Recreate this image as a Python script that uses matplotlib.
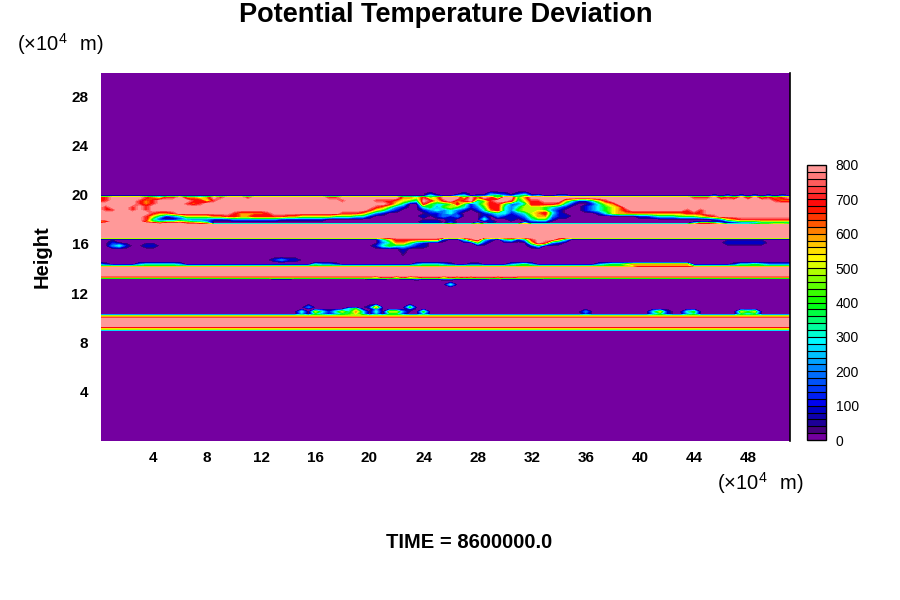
import matplotlib
matplotlib.use("Agg")
import matplotlib.pyplot as plt
import numpy as np
from matplotlib.colors import LinearSegmentedColormap

plt.rcParams['font.family'] = ['Liberation Sans', 'DejaVu Sans']
plt.rcParams['mathtext.fontset'] = 'custom'
plt.rcParams['mathtext.rm'] = 'Liberation Sans'

# field: one row per height, one digit (hundreds) per 0.5 x 10^4 m
# "-" = ten 0 digits, "+" = ten 8 digits, a lone digit fills the whole row
heights = [30, 20.25, 20.05, 19.9, 19.75, 19.5, 19.25, 19.0, 18.75, 18.5, 18.25, 18.0, 17.8, 17.66,
           17.54, 16.54, 16.38, 16.1, 15.85, 15.6, 14.9, 14.7, 14.5, 14.33, 14.18, 14.05, 13.42, 13.3, 13.24,
           13.18, 13.05, 12.9, 12.7, 12.5, 11.1, 10.85, 10.72, 10.5, 10.3, 10.14, 10.06, 10.0, 9.93,
           9.3, 9.22, 9.1, 9.03, 8.97, 0]
rows = [
    "0",
    "0",
    "- - - - 0000000001 0000100021 1012000000 - - - 000",
    "- - - - 0000000003 1002301134 2134120011 - - 0101010101 010",
    "7788888765 7786656878 8878888888 8888778888 8888866574 6888586874 8846888888 + 8888888877 7867686867 678",
    "6788887678 8888775788 + 8888887888 8777654387 5786783478 8735778885 3113578888 + + 766",
    "8888887678 8887678888 + + 8887530074 3347413577 4223777763 1001356888 + + 888",
    "8788878788 + + + 8764210034 2454312477 3235554321 0012345688 + + 888",
    "8778878788 + + + 7542100012 3232101367 3245554210 0012345678 8888888787 + 888",
    "8888888876 6788888888 7666678888 8888887776 4210000001 1231000123 3123567310 0000135666 6666666777 + 888",
    "8888888753 1235555667 7667777766 5555544433 1000000010 1212000102 1112466211 - 1123334445 6788888888 888",
    "8888888731 0012222111 2222222111 1111000000 - 0010000300 0101344100 - - 0125677777 777",
    "5688888643 4454332000 - - 0000000011 1010000010 0000111000 - - 0001233344 444",
    "7888888887 8887765000 - - - 0020003000 0004000000 - 0000000036 6530000122 332",
    "8",
    "8",
    "- - - - 0035777777 7100378310 3413788863 - - - 000",
    "0010000000 - - - 0023664210 0000004100 0000587210 - - 0001111110 000",
    "0023100110 - - - 0134332110 - 0000130000 - - - 000",
    "- - - - 0000010000 - - - - - 000",
    "0",
    "- - 0000001211 - - - - - - - 000",
    "0",
    "2100002333 3320000000 - 0032210000 0000000233 3210011000 0234200000 0000234456 6666666600 0000133432 222",
    "4444444444 4444444444 4444444444 4444444444 4444444444 4444444444 4444444444 4444444444 6666666644 4444444444 444",
    "8",
    "8",
    "6666666666 6666666666 6666666666 6666666666 6577575677 7576767776 7766666666 6666666666 6666666666 6666666666 666",
    "5",
    "- - 0000001110 - 1110011211 1221111100 1111110000 - - - 000",
    "0",
    "0",
    "- - - - - 0030000000 - - - - 000",
    "0",
    "0",
    "- - - 0200000000 1600004000 - - - - - 000",
    "- - - 0000000340 0200001000 - - - - - 000",
    "- - - 3053135363 0305520040 - - 0020000000 0035100340 0000054500 000",
    "- - - 2032123453 0203310020 - - 0010000000 0023100230 0000032300 000",
    "5",
    "6",
    "7",
    "8",
    "8",
    "6",
    "5",
    "4",
    "0",
    "0",
]
xticks = [4, 8, 12, 16, 20, 24, 28, 32, 36, 40, 44, 48]
yticks = [4, 8, 12, 16, 20, 24, 28]
cticks = [0, 100, 200, 300, 400, 500, 600, 700, 800]
levels = np.arange(0, 820, 20)

# colorbar colours, bottom to top
palette = [(0, "#7400a0"), (20/800, "#46007a"), (40/800, "#1e0096"), (80/800, "#0000c0"), (100/800, "#0000f0"),
           (200/800, "#0080ff"), (290/800, "#00ffff"), (340/800, "#00ff80"), (400/800, "#00ff00"),
           (470/800, "#80ff00"), (530/800, "#ffff00"), (590/800, "#ffb000"), (640/800, "#ff5000"),
           (690/800, "#ff0000"), (740/800, "#ff4040"), (1, "#ff9999")]
cmap = LinearSegmentedColormap.from_list("ncl", palette, N=40)


def parse(r):
    if len(r) == 1:
        return [int(r) * 100] * 103
    s = ""
    for t in r.split():
        if t == "-":
            s += "0" * 10
        elif t == "+":
            s += "8" * 10
        else:
            s += t
    return [int(c) * 100 for c in (s + s[-1] * 103)[:103]]


z = np.array([parse(r) for r in rows], dtype=float)
x = np.append(np.arange(0, 51, 0.5), 51.2)
y = np.array(heights, dtype=float)

fig = plt.figure(figsize=(9, 6), dpi=100)
ax = fig.add_axes([101/900, (600-441)/600, 689/900, 368/600])
cf = ax.contourf(x, y[::-1], z[::-1], levels=levels, cmap=cmap, antialiased=False)
ax.set_xlim(0.15, 51.1)
ax.set_ylim(0, 29.87)
ax.set_xticks(xticks)
ax.set_yticks(yticks)
ax.tick_params(length=0, labelsize=11, pad=7)
for t in ax.get_xticklabels() + ax.get_yticklabels():
    t.set_fontweight("bold")
ax.tick_params(axis="y", pad=9)
for s in ["top", "left", "bottom"]:
    ax.spines[s].set_visible(False)
ax.spines["right"].set_linewidth(1.2)

cax = fig.add_axes([807/900, (600-440)/600, 19/900, 275/600])
cb = fig.colorbar(cf, cax=cax, ticks=cticks, drawedges=True)
cb.ax.tick_params(length=0, labelsize=10, pad=7)
cb.outline.set_linewidth(1)
cb.dividers.set_linewidth(0.8)

fig.text(446/900, 1-15/600, "Potential Temperature Deviation", ha="center", va="center", fontsize=19.5, fontweight="bold")
fig.text(469/900, 1-543/600, "TIME = 8600000.0", ha="center", va="center", fontsize=14.5, fontweight="bold")
fig.text(42/900, 1-257/600, "Height", ha="center", va="center", rotation=90, fontsize=14.5, fontweight="bold")
unit = r"$(\times10^{4}\ \ \mathrm{m})$"
fig.text(60/900, 1-44/600, unit, ha="center", va="center", fontsize=14.5)
fig.text(760/900, 1-483/600, unit, ha="center", va="center", fontsize=14.5)

fig.savefig("out.png", dpi=100)
